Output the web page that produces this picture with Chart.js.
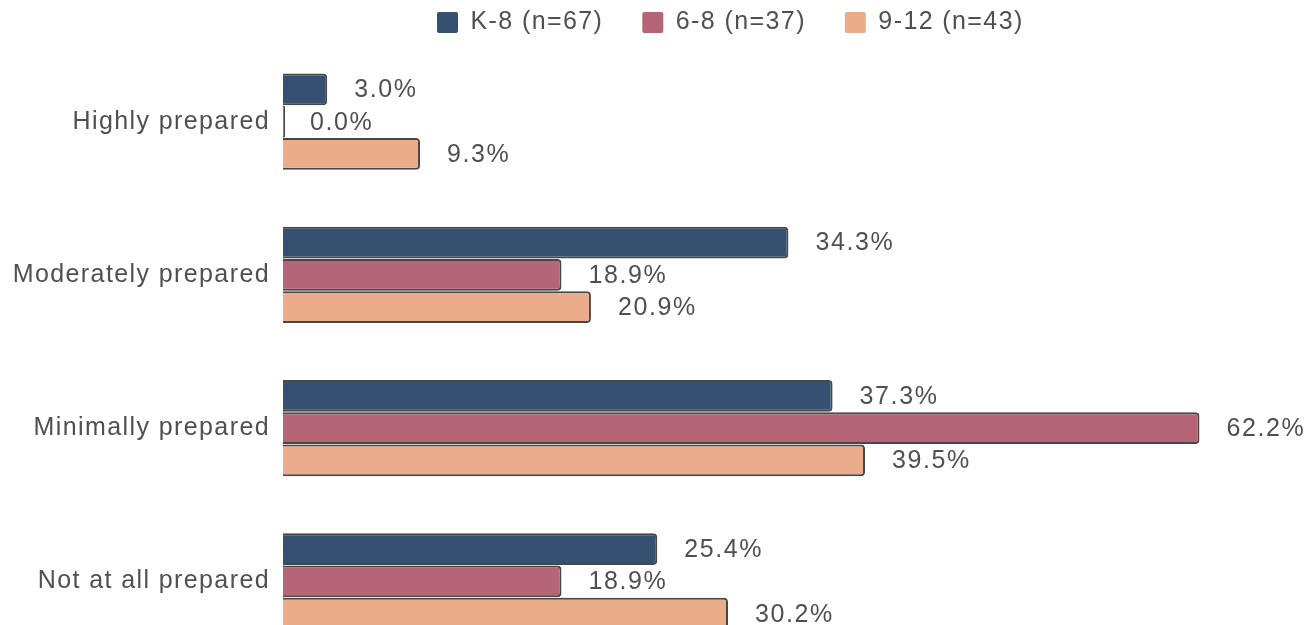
<!DOCTYPE html>
<html>
<head>
<meta charset="utf-8">
<title>Preparedness by grade band</title>
<script src="https://cdn.jsdelivr.net/npm/chart.js@4.4.1/dist/chart.umd.min.js"></script>
<style>
  html, body { margin: 0; padding: 0; background: #ffffff; overflow: hidden; }
  canvas { display: block; }
</style>
</head>
<body>
<canvas id="chart" width="1310" height="686"></canvas>
<script>
// Survey response categories (y axis)
const categories = ['Highly prepared', 'Moderately prepared', 'Minimally prepared', 'Not at all prepared'];

// Grade band series names
const seriesNames = ['K-8 (n=67)', '6-8 (n=37)', '9-12 (n=43)'];

// Percent of respondents per category
const k8Values   = [3.0, 34.3, 37.3, 25.4];
const g68Values  = [0.0, 18.9, 62.2, 18.9];
const g912Values = [9.3, 20.9, 39.5, 30.2];

const seriesColors = ['#355070', '#b56576', '#eaac8b'];
const textColor = '#505050';
const fontFamily = '"Liberation Sans", Arial, sans-serif';
const fontSize = 25;
const tracking = '1.4px';
const labelTracking = '1.6px';

// Slightly wider tracking for every piece of text on the canvas
const textTracking = {
  id: 'textTracking',
  beforeUpdate(chart) { chart.ctx.letterSpacing = tracking; },
  beforeDraw(chart) { chart.ctx.letterSpacing = tracking; }
};

// Keep the legend compact and place it over the plot area
const legendPlacement = {
  id: 'legendPlacement',
  afterInit(chart) {
    const legend = chart.legend;
    const baseFit = legend.fit;
    legend.fit = function () {
      baseFit.call(this);
      this.height = 45;
    };
  },
  afterLayout(chart) {
    const legend = chart.legend;
    legend.top = -29;
    legend.left = 398;
  }
};

// Writes each bar's value just past its end
const valueLabels = {
  id: 'valueLabels',
  afterDatasetsDraw(chart) {
    const ctx = chart.ctx;
    ctx.save();
    ctx.letterSpacing = labelTracking;
    ctx.font = fontSize + 'px ' + fontFamily;
    ctx.fillStyle = textColor;
    ctx.textAlign = 'left';
    ctx.textBaseline = 'middle';
    chart.data.datasets.forEach((ds, di) => {
      const meta = chart.getDatasetMeta(di);
      meta.data.forEach((bar, i) => {
        const v = ds.data[i];
        const xEnd = chart.scales.x.getPixelForValue(v);
        ctx.fillText(v.toFixed(1) + '%', xEnd + 27, bar.y + 1);
      });
    });
    ctx.restore();
  }
};

const datasets = [k8Values, g68Values, g912Values].map((vals, i) => ({
  label: seriesNames[i],
  data: vals,
  backgroundColor: seriesColors[i],
  borderColor: '#474747',
  borderWidth: 2,
  borderRadius: 4,
  borderSkipped: 'start',
  minBarLength: 2,
  categoryPercentage: 0.632,
  barPercentage: 0.98
}));

new Chart(document.getElementById('chart'), {
  type: 'bar',
  data: { labels: categories, datasets },
  options: {
    indexAxis: 'y',
    responsive: false,
    animation: false,
    layout: { padding: 0 },
    plugins: {
      legend: {
        position: 'top',
        align: 'start',
        labels: {
          boxWidth: 21,
          boxHeight: 21,
          padding: 39,
          color: textColor,
          font: { size: fontSize, family: fontFamily },
          generateLabels(chart) {
            return chart.data.datasets.map((ds, i) => ({
              text: ds.label,
              fillStyle: ds.backgroundColor,
              strokeStyle: ds.backgroundColor,
              lineWidth: 0,
              fontColor: textColor,
              borderRadius: 2,
              datasetIndex: i
            }));
          },
          useBorderRadius: true,
          borderRadius: 2
        }
      },
      tooltip: { enabled: false }
    },
    scales: {
      x: {
        display: false,
        min: 0,
        max: 69.7
      },
      y: {
        grid: { display: false, drawTicks: false },
        border: { display: false },
        afterFit(scale) { scale.width = 283; },
        ticks: {
          color: textColor,
          padding: 13,
          font: { size: fontSize, family: fontFamily }
        }
      }
    }
  },
  plugins: [textTracking, legendPlacement, valueLabels]
});
</script>
</body>
</html>
